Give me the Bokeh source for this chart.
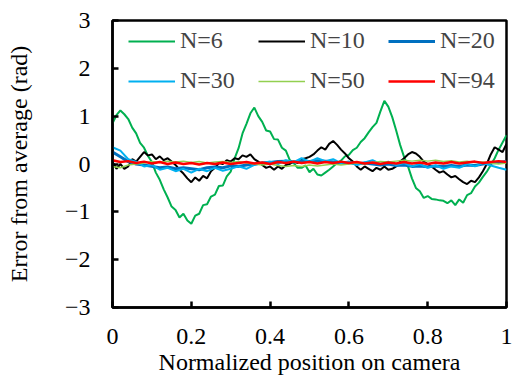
from bokeh.plotting import figure
from bokeh.models import Legend, LegendItem, Range1d, FixedTicker
from bokeh.embed import file_html
from bokeh.resources import INLINE

# Positions along the camera (fine grid for N=6 and N=10, coarse grid for the rest)
x_fine = [i / 100 for i in range(101)]
x_coarse = [i / 50 for i in range(51)]

n6 = [0.85, 1.02, 1.12, 1.04, 0.94, 0.76, 0.64, 0.44, 0.34, 0.17,
      0.04, -0.18, -0.33, -0.53, -0.70, -0.89, -0.96, -1.12, -1.04, -1.18,
      -1.25, -1.08, -1.04, -0.86, -0.84, -0.68, -0.64, -0.46, -0.45, -0.26,
      -0.16, 0.12, 0.33, 0.64, 0.84, 1.06, 1.18, 1.00, 0.88, 0.70,
      0.68, 0.52, 0.51, 0.34, 0.28, 0.08, 0.02, -0.08, -0.08, -0.03,
      -0.17, -0.10, -0.22, -0.24, -0.18, -0.12, -0.05, 0.02, 0.07, 0.16,
      0.19, 0.29, 0.34, 0.46, 0.54, 0.66, 0.77, 0.86, 1.10, 1.32,
      1.20, 0.98, 0.70, 0.40, 0.15, -0.05, -0.30, -0.50, -0.57, -0.71,
      -0.67, -0.73, -0.74, -0.76, -0.77, -0.82, -0.76, -0.86, -0.74, -0.81,
      -0.65, -0.61, -0.47, -0.39, -0.27, -0.16, -0.02, 0.12, 0.30, 0.45,
      0.60]

n10 = [0.05, -0.10, 0.00, -0.10, -0.05, 0.10, 0.05, 0.15, 0.25, 0.18,
       0.20, 0.10, 0.16, 0.08, 0.12, 0.05, -0.02, -0.12, -0.20, -0.30,
       -0.38, -0.28, -0.35, -0.25, -0.30, -0.15, -0.08, 0.02, 0.00, 0.08,
       0.05, 0.12, 0.10, 0.18, 0.15, 0.20, 0.10, 0.05, -0.02, -0.08,
       -0.05, -0.12, -0.05, -0.10, -0.02, 0.00, 0.05, 0.02, 0.10, 0.12,
       0.15, 0.20, 0.28, 0.35, 0.30, 0.42, 0.48, 0.40, 0.30, 0.22,
       0.12, 0.05, -0.05, -0.12, -0.05, -0.10, -0.15, -0.08, -0.12, -0.05,
       -0.12, -0.10, -0.05, 0.05, 0.12, 0.20, 0.25, 0.22, 0.15, 0.05,
       0.00, -0.05, -0.12, -0.18, -0.15, -0.22, -0.28, -0.25, -0.32, -0.38,
       -0.42, -0.35, -0.38, -0.28, -0.15, 0.00, 0.20, 0.35, 0.30, 0.25,
       0.42]

n20 = [0.25, 0.15, 0.05, 0.00, -0.02, -0.05, -0.08, -0.06, -0.10, -0.08,
       -0.10, -0.12, -0.08, -0.06, -0.08, -0.04, -0.05, -0.02, 0.00, 0.02,
       0.03, 0.05, 0.06, 0.04, 0.06, 0.05, 0.07, 0.06, 0.04, 0.02,
       0.03, 0.00, 0.02, 0.00, -0.02, 0.00, -0.03, -0.02, -0.05, -0.04,
       -0.06, -0.04, -0.05, -0.03, -0.05, -0.02, -0.03, 0.00, 0.02, 0.03,
       0.05]

n30 = [0.35, 0.28, 0.10, 0.05, -0.05, -0.02, -0.12, -0.08, -0.15, -0.10,
       -0.18, -0.10, -0.15, -0.08, -0.14, -0.10, -0.05, -0.10, -0.02, 0.02,
       0.05, 0.00, 0.08, 0.04, 0.12, 0.05, 0.12, 0.06, 0.10, 0.02,
       0.05, -0.02, 0.03, 0.08, 0.00, 0.05, -0.02, 0.02, -0.05, 0.00,
       -0.08, -0.03, -0.10, -0.05, -0.08, 0.00, -0.05, 0.02, -0.03, -0.08,
       -0.12]

n50 = [-0.05, -0.08, -0.02, 0.00, 0.02, 0.05, 0.03, 0.06, 0.04, 0.06,
       0.03, 0.05, 0.02, 0.04, 0.05, 0.03, 0.05, 0.02, 0.00, -0.02,
       0.00, -0.03, -0.05, -0.03, -0.05, -0.02, -0.04, -0.02, 0.00, -0.02,
       0.00, 0.02, 0.00, 0.03, 0.05, 0.04, 0.06, 0.08, 0.06, 0.08,
       0.06, 0.08, 0.05, 0.07, 0.04, 0.06, 0.03, 0.04, 0.02, 0.00,
       0.02]

n94 = [0.08, 0.04, 0.06, 0.02, 0.05, 0.01, 0.04, 0.00, 0.03, 0.00,
       0.02, -0.01, 0.02, 0.00, 0.03, 0.00, 0.02, 0.04, 0.01, 0.03,
       0.00, 0.04, 0.02, 0.05, 0.02, 0.04, 0.01, 0.04, 0.02, 0.05,
       0.02, 0.04, 0.01, 0.03, 0.00, 0.03, 0.01, 0.04, 0.01, 0.03,
       0.00, 0.03, 0.01, 0.04, 0.01, 0.03, 0.05, 0.02, 0.04, 0.06,
       0.04]

x_ticks = [0, 0.2, 0.4, 0.6, 0.8, 1]
y_ticks = [-3, -2, -1, 0, 1, 2, 3]

FONT = "Liberation Serif"
FS = "24px"

p = figure(width=515, height=384, output_backend="svg", toolbar_location=None,
           x_range=Range1d(0, 1), y_range=Range1d(-3, 3),
           min_border_left=112, min_border_right=9, min_border_top=20,
           min_border_bottom=77)
p.grid.visible = False
p.background_fill_color = "white"
p.border_fill_color = "white"
p.outline_line_color = "black"
p.outline_line_width = 2.5

r6 = p.line(x_fine, n6, line_color="#00b050", line_width=2)
r10 = p.line(x_fine, n10, line_color="black", line_width=2)
r20 = p.line(x_coarse, n20, line_color="#0070c0", line_width=3)
r30 = p.line(x_coarse, n30, line_color="#00b0f0", line_width=2)
r50 = p.line(x_coarse, n50, line_color="#92d050", line_width=1.5)
r94 = p.line(x_coarse, n94, line_color="#ff0000", line_width=2.5)

p.axis.axis_line_width = 2.5
p.axis.major_tick_line_width = 2.5
p.axis.major_tick_in = 6
p.axis.major_tick_out = 0
p.axis.minor_tick_line_color = None
p.axis.major_label_text_font = FONT
p.axis.major_label_text_font_size = FS
p.axis.major_label_text_color = "black"
p.axis.axis_label_text_font = FONT
p.axis.axis_label_text_font_size = FS
p.axis.axis_label_text_font_style = "normal"
p.axis.axis_label_text_color = "black"

p.xaxis.ticker = FixedTicker(ticks=x_ticks)
p.yaxis.ticker = FixedTicker(ticks=y_ticks)
p.xaxis.major_label_overrides = {0: "0", 0.2: "0.2", 0.4: "0.4", 0.6: "0.6", 0.8: "0.8", 1: "1"}
p.xaxis.major_label_standoff = 21
p.yaxis.major_label_standoff = 22
p.xaxis.axis_label = "Normalized position on camera"
p.yaxis.axis_label = "Error from average (rad)"
p.xaxis.axis_label_standoff = 2
p.yaxis.axis_label_standoff = 30

legend = Legend(items=[
    LegendItem(label="N=6", renderers=[r6]),
    LegendItem(label="N=10", renderers=[r10]),
    LegendItem(label="N=20", renderers=[r20]),
    LegendItem(label="N=30", renderers=[r30]),
    LegendItem(label="N=50", renderers=[r50]),
    LegendItem(label="N=94", renderers=[r94]),
], ncols=3, orientation="horizontal", location=(16, 213),
   border_line_color=None, background_fill_alpha=0,
   glyph_width=47, glyph_height=24, label_height=24, label_width=65,
   label_standoff=5, spacing=13, padding=0, margin=0)
p.add_layout(legend)
p.legend.label_text_font = FONT
p.legend.label_text_font_size = FS

open("out.html", "w").write(file_html(p, INLINE))
